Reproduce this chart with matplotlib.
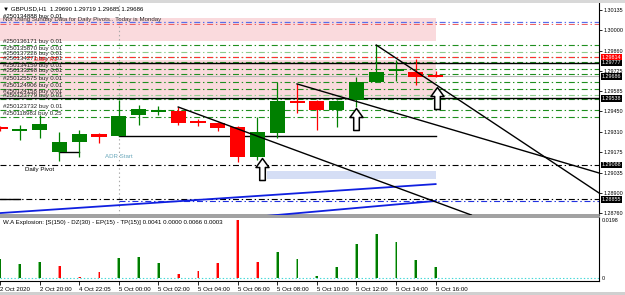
import matplotlib
matplotlib.use("Agg")
import matplotlib.pyplot as plt
from matplotlib.path import Path
from matplotlib.patches import Rectangle
import matplotlib.transforms as mtransforms
from matplotlib import font_manager
import numpy as np

_names = {f.name for f in font_manager.fontManager.ttflist}
if 'Liberation Sans Narrow' in _names:
    plt.rcParams['font.family'] = ['Liberation Sans Narrow', 'DejaVu Sans']
    SCALE = 1.2
else:
    plt.rcParams['font.family'] = ['Liberation Sans', 'DejaVu Sans']
    SCALE = 1.0
plt.rcParams['lines.scale_dashes'] = False

W, H = 625, 295

# ---------------- data ----------------
symbol_header = "GBPUSD,H1  1.29690 1.29719 1.29685 1.29686"
pivot_note = "Not Using Sunday Data for Daily Pivots.. Today is Monday"
indicator_header = "W.A Explosion: [S(150) - DZ(30) - EP(15) - TP(15)] 0.0041 0.0000 0.0066 0.0003"

time_labels = ["2 Oct 2020", "2 Oct 20:00", "4 Oct 22:05", "5 Oct 00:00", "5 Oct 02:00",
               "5 Oct 04:00", "5 Oct 06:00", "5 Oct 08:00", "5 Oct 10:00", "5 Oct 12:00",
               "5 Oct 14:00", "5 Oct 16:00"]
time_label_bars = [0, 2, 4, 6, 8, 10, 12, 14, 16, 18, 20, 22]

opens  = [1.29345, 1.29324, 1.29324, 1.29175, 1.29242, 1.29297, 1.29283, 1.29425, 1.29450,
          1.29452, 1.29380, 1.29371, 1.29344, 1.29141, 1.29303, 1.29519, 1.29519, 1.29459,
          1.29526, 1.29648, 1.29726, 1.29716, 1.29690]
highs  = [1.29350, 1.29357, 1.29425, 1.29310, 1.29324, 1.29303, 1.29526, 1.29493, 1.29486,
          1.29479, 1.29398, 1.29378, 1.29351, 1.29411, 1.29648, 1.29635, 1.29526, 1.29526,
          1.29682, 1.29898, 1.29797, 1.29804, 1.29719]
lows   = [1.29320, 1.29256, 1.29270, 1.29114, 1.29141, 1.29236, 1.29283, 1.29357, 1.29425,
          1.29357, 1.29351, 1.29317, 1.29107, 1.29121, 1.29270, 1.29439, 1.29324, 1.29344,
          1.29479, 1.29648, 1.29655, 1.29628, 1.29685]
closes = [1.29330, 1.29326, 1.29364, 1.29242, 1.29297, 1.29276, 1.29418, 1.29465, 1.29454,
          1.29371, 1.29373, 1.29337, 1.29141, 1.29310, 1.29519, 1.29506, 1.29459, 1.29519,
          1.29648, 1.29716, 1.29729, 1.29682, 1.29686]

explosion_values = [0.0064, 0.0048, 0.0056, 0.0041, 0.0003, 0.0020, 0.0067, 0.0071, 0.0052,
                    0.0013, 0.0023, 0.0050, 0.0198, 0.0054, 0.0089, 0.0064, 0.0007, 0.0039,
                    0.0116, 0.0149, 0.0123, 0.0060, 0.0038]
explosion_dir = ['up', 'up', 'up', 'down', 'down', 'down', 'up', 'up', 'up', 'down', 'down',
                 'down', 'down', 'down', 'up', 'up', 'up', 'up', 'up', 'up', 'up', 'up', 'up']
explosion_ticks = [0.0, 0.0198]
explosion_tick_labels = ["0", "0.0198"]

price_ticks = [1.30135, 1.30000, 1.29860, 1.29725, 1.29585, 1.29450, 1.29310, 1.29175,
               1.29035, 1.28900, 1.28760]

order_ids = ["250136171", "250135870", "250137226", "250134271", "250134159", "250133298",
             "250125575", "250124906", "250124158", "250123779", "250123732", "250118983"]
order_lots = [0.01, 0.01, 0.01, 0.01, 0.01, 0.01, 0.01, 0.01, 0.01, 0.01, 0.01, 0.25]
order_prices = [1.29898, 1.29851, 1.29817, 1.29783, 1.29736, 1.29702, 1.29648, 1.29601,
                1.29560, 1.29533, 1.29459, 1.29411]
hidden_order = "250134888"

daily_r1 = 1.29814
daily_pivot = 1.29088
daily_s1 = 1.28855
weekly_level = 1.30047
level_a = 1.29777
level_b = 1.29538
bid_price = 1.29686

box_labels = [1.29814, 1.29777, 1.29686, 1.29538, 1.29088, 1.28855]
box_kinds = ['red', 'black', 'black', 'black', 'black', 'black']

# horizontal segments: (start bar, end bar, price)
segments = [(6, 22, 1.29283), (3, 4, 1.29175), (0, 1, 1.28855)]

# shaded zones: (start bar, end bar, low, high)
pink_zones = [(0, 22, 1.29925, 1.30081), (0, 22, 1.29547, 1.29797)]
blue_zone = (13.5, 22, 1.28992, 1.29046)

# trend lines (bar0, price0, bar1, price1)
trend_lines = [(9.0, 1.29479, 23.8, 1.28749),
               (15.0, 1.29635, 30.25, 1.29033),
               (19.0, 1.29898, 30.25, 1.28898)]
blue_lines = [(0.0, 1.28762, 22.0, 1.28958),
              (13.4, 1.28742, 22.0, 1.28844)]

arrow_bars = [13.25, 18.0, 22.05]
arrow_prices = [1.29134, 1.29472, 1.29614]

adr_start_bar = 6

# ---------------- figure ----------------
fig = plt.figure(figsize=(W / 100, H / 100), dpi=100)
fig.patch.set_facecolor('white')


def rect(x0, y0, x1, y1):
    return [x0 / W, 1 - y1 / H, (x1 - x0) / W, (y1 - y0) / H]


# toolbar / tab strips
fig.add_artist(Rectangle((0, 1 - 3 / H), 1, 3 / H, transform=fig.transFigure,
                         facecolor='#d8d8d8', edgecolor='none'))
fig.add_artist(Rectangle((0, 0), 1, 3 / H, transform=fig.transFigure,
                         facecolor='#d0d0d0', edgecolor='none'))

ax = fig.add_axes(rect(0, 3, 599, 215))
axi = fig.add_axes(rect(0, 217, 599, 281))

XMIN, XMAX = 0.0, 30.25
ax.set_xlim(XMIN, XMAX)
ax.set_ylim(1.28749, 1.30182)
axi.set_xlim(XMIN, XMAX)
axi.set_ylim(-0.00102, 0.02082)

dashdot = (4.3, 2.0, 1.0, 2.0)

# pink zones
for x0, x1, lo, hi in pink_zones:
    ax.add_patch(Rectangle((x0, lo), x1 - x0, hi - lo, facecolor='#fadadd',
                           edgecolor='none', zorder=0))
bx0, bx1, blo, bhi = blue_zone
ax.add_patch(Rectangle((bx0, blo), bx1 - bx0, bhi - blo, facecolor='#d5def5',
                       edgecolor='none', zorder=0))

# vertical ADR start line
ax.axvline(adr_start_bar, color='#a8a8a8', lw=0.8, ls=(0, (1, 2)), zorder=1)

# weekly level (blue/red dash-dot)
px = (ax.get_ylim()[1] - ax.get_ylim()[0]) / 212.0
ax.axhline(weekly_level + 0.5 * px, color='#5a6ee8', lw=0.9, dashes=dashdot, zorder=2)
ax.axhline(weekly_level - 0.6 * px, color='#f06060', lw=0.7, dashes=dashdot, zorder=2)

# order lines
light_idx = {1, 8}
for i, p in enumerate(order_prices):
    col = '#8ccc8c' if i in light_idx else '#1f8f1f'
    ax.axhline(p, color=col, lw=0.8, dashes=dashdot, zorder=2)

# daily R1
ax.axhline(daily_r1, color='#ff3030', lw=0.8, dashes=dashdot, zorder=2)
# solid levels
ax.axhline(level_a, color='black', lw=1.0, zorder=2)
ax.axhline(level_b, color='black', lw=1.0, zorder=2)
ax.axhline(bid_price, color='#b8b8b8', lw=0.8, zorder=2)
# pivot & S1
ax.axhline(daily_pivot, color='black', lw=0.8, dashes=dashdot, zorder=2)
ax.axhline(daily_s1, color='black', lw=0.8, dashes=dashdot, zorder=2)
ax.plot([adr_start_bar, XMAX], [daily_s1 - 1.6 * px] * 2, color='#2030e0', lw=0.8,
        dashes=dashdot, zorder=2)

for b0, b1, p in segments:
    ax.plot([b0, b1], [p, p], color='black', lw=1.0, zorder=2)

# blue lines
for b0, p0, b1, p1 in blue_lines:
    ax.plot([b0, b1], [p0, p1], color='#1020e0', lw=1.3, zorder=3)

# candles
n = len(opens)
xs = np.arange(n)
for i in range(n):
    o, h, l, c = opens[i], highs[i], lows[i], closes[i]
    col = '#008000' if c >= o else '#ff0000'
    ax.vlines(xs[i], l, h, color=col, lw=0.9, zorder=4)
    lo, hi = min(o, c), max(o, c)
    if hi - lo < 1.6 * px:
        mid = (hi + lo) / 2
        lo, hi = mid - 0.8 * px, mid + 0.8 * px
    ax.add_patch(Rectangle((xs[i] - 0.38, lo), 0.76, hi - lo, facecolor=col,
                           edgecolor='none', zorder=5))

# trend lines
for b0, p0, b1, p1 in trend_lines:
    ax.plot([b0, b1], [p0, p1], color='black', lw=1.0, zorder=6)

# arrows (hollow up arrows with tip at the point)
arrow_verts = [(0, 0), (6.5, -9), (2.8, -9), (2.8, -22), (-2.8, -22), (-2.8, -9),
               (-6.5, -9), (0, 0)]
arrow_path = Path(arrow_verts, [Path.MOVETO] + [Path.LINETO] * 6 + [Path.CLOSEPOLY])
ax.plot(arrow_bars, arrow_prices, ls='none', marker=arrow_path, markersize=31.7,
        markerfacecolor='white', markeredgecolor='black', markeredgewidth=1.1, zorder=7)

# order labels
fs = 4.4 * SCALE
lab_tr = mtransforms.offset_copy(ax.transData, fig=fig, x=3, y=3.5, units='dots')
for oid, lot, p in zip(order_ids, order_lots, order_prices):
    ax.text(0, p, f"#{oid} buy {lot:.2f}", fontsize=fs, color='#202020',
            va='center', ha='left', transform=lab_tr, zorder=8)
ax.text(0, daily_r1, "Daily R1", fontsize=fs, color='#ff2020', va='center', ha='left',
        transform=mtransforms.offset_copy(ax.transData, fig=fig, x=34, y=-2, units='dots'),
        zorder=8)
ax.text(0, daily_pivot, "Daily Pivot", fontsize=fs, color='black', va='center', ha='left',
        transform=mtransforms.offset_copy(ax.transData, fig=fig, x=25, y=-5, units='dots'),
        zorder=8)
ax.text(adr_start_bar, daily_pivot, "ADR Start", fontsize=fs, color='#6aa8bb',
        va='center', ha='center',
        transform=mtransforms.offset_copy(ax.transData, fig=fig, x=0, y=8, units='dots'),
        zorder=8)

# header texts
fig.text(3 / W, 1 - 8.5 / H, "\u25BC " + symbol_header, fontsize=fs, color='black',
         va='center', ha='left')
fig.text(3 / W, 1 - 16.5 / H, f"#{hidden_order} buy 0.01", fontsize=fs, color='black',
         va='center', ha='left')
fig.text(3 / W, 1 - 19.5 / H, pivot_note, fontsize=fs, color='#303030',
         va='center', ha='left')

# price axis
pfs = 3.9 * SCALE
ax.yaxis.tick_right()
ax.set_yticks(price_ticks)
ax.set_yticklabels([f"{p:.5f}" for p in price_ticks], fontsize=pfs)
ax.tick_params(axis='y', length=2, width=0.6, pad=1, colors='black')
ax.set_xticks([])

for p, kind in zip(box_labels, box_kinds):
    ax.text(1.0045, p, f"{p:.5f}", transform=ax.get_yaxis_transform(), fontsize=pfs,
            color='white', va='center', ha='left', zorder=10, clip_on=False,
            bbox=dict(boxstyle='square,pad=0.15',
                      facecolor='#ff0000' if kind == 'red' else 'black',
                      edgecolor='none'))

for side in ['left', 'top']:
    ax.spines[side].set_visible(False)
ax.spines['right'].set_color('black')
ax.spines['right'].set_linewidth(0.8)
ax.spines['bottom'].set_color('#909090')
ax.spines['bottom'].set_linewidth(1.2)

# indicator
bar_w = 0.14
for i in range(n):
    col = '#007a00' if explosion_dir[i] == 'up' else '#ff0000'
    light = '#80d080' if explosion_dir[i] == 'up' else '#ff9090'
    axi.bar(xs[i], explosion_values[i], width=bar_w, color=col, align='center', zorder=3)
    axi.bar(xs[i] - bar_w * 0.33, explosion_values[i], width=bar_w * 0.33, color=light,
            align='center', zorder=4)
axi.axhline(0, color='#40d8d8', lw=0.8, ls=(0, (1, 1.5)), zorder=2)

axi.yaxis.tick_right()
axi.set_yticks(explosion_ticks)
axi.set_yticklabels(explosion_tick_labels, fontsize=pfs)
axi.tick_params(axis='y', length=0, pad=2)
axi.set_xticks(time_label_bars)
axi.set_xticklabels(time_labels, fontsize=fs)
for lab in axi.get_xticklabels():
    lab.set_ha('left')
axi.tick_params(axis='x', length=3, width=0.6, pad=1.5)

axi.spines['left'].set_visible(False)
axi.spines['top'].set_color('#909090')
axi.spines['top'].set_linewidth(1.2)
axi.spines['right'].set_linewidth(0.8)
axi.spines['bottom'].set_linewidth(0.8)

axi.text(0.005, 0.92, indicator_header, transform=axi.transAxes, fontsize=fs,
         color='black', va='center', ha='left')

fig.savefig("out.png", dpi=100)
